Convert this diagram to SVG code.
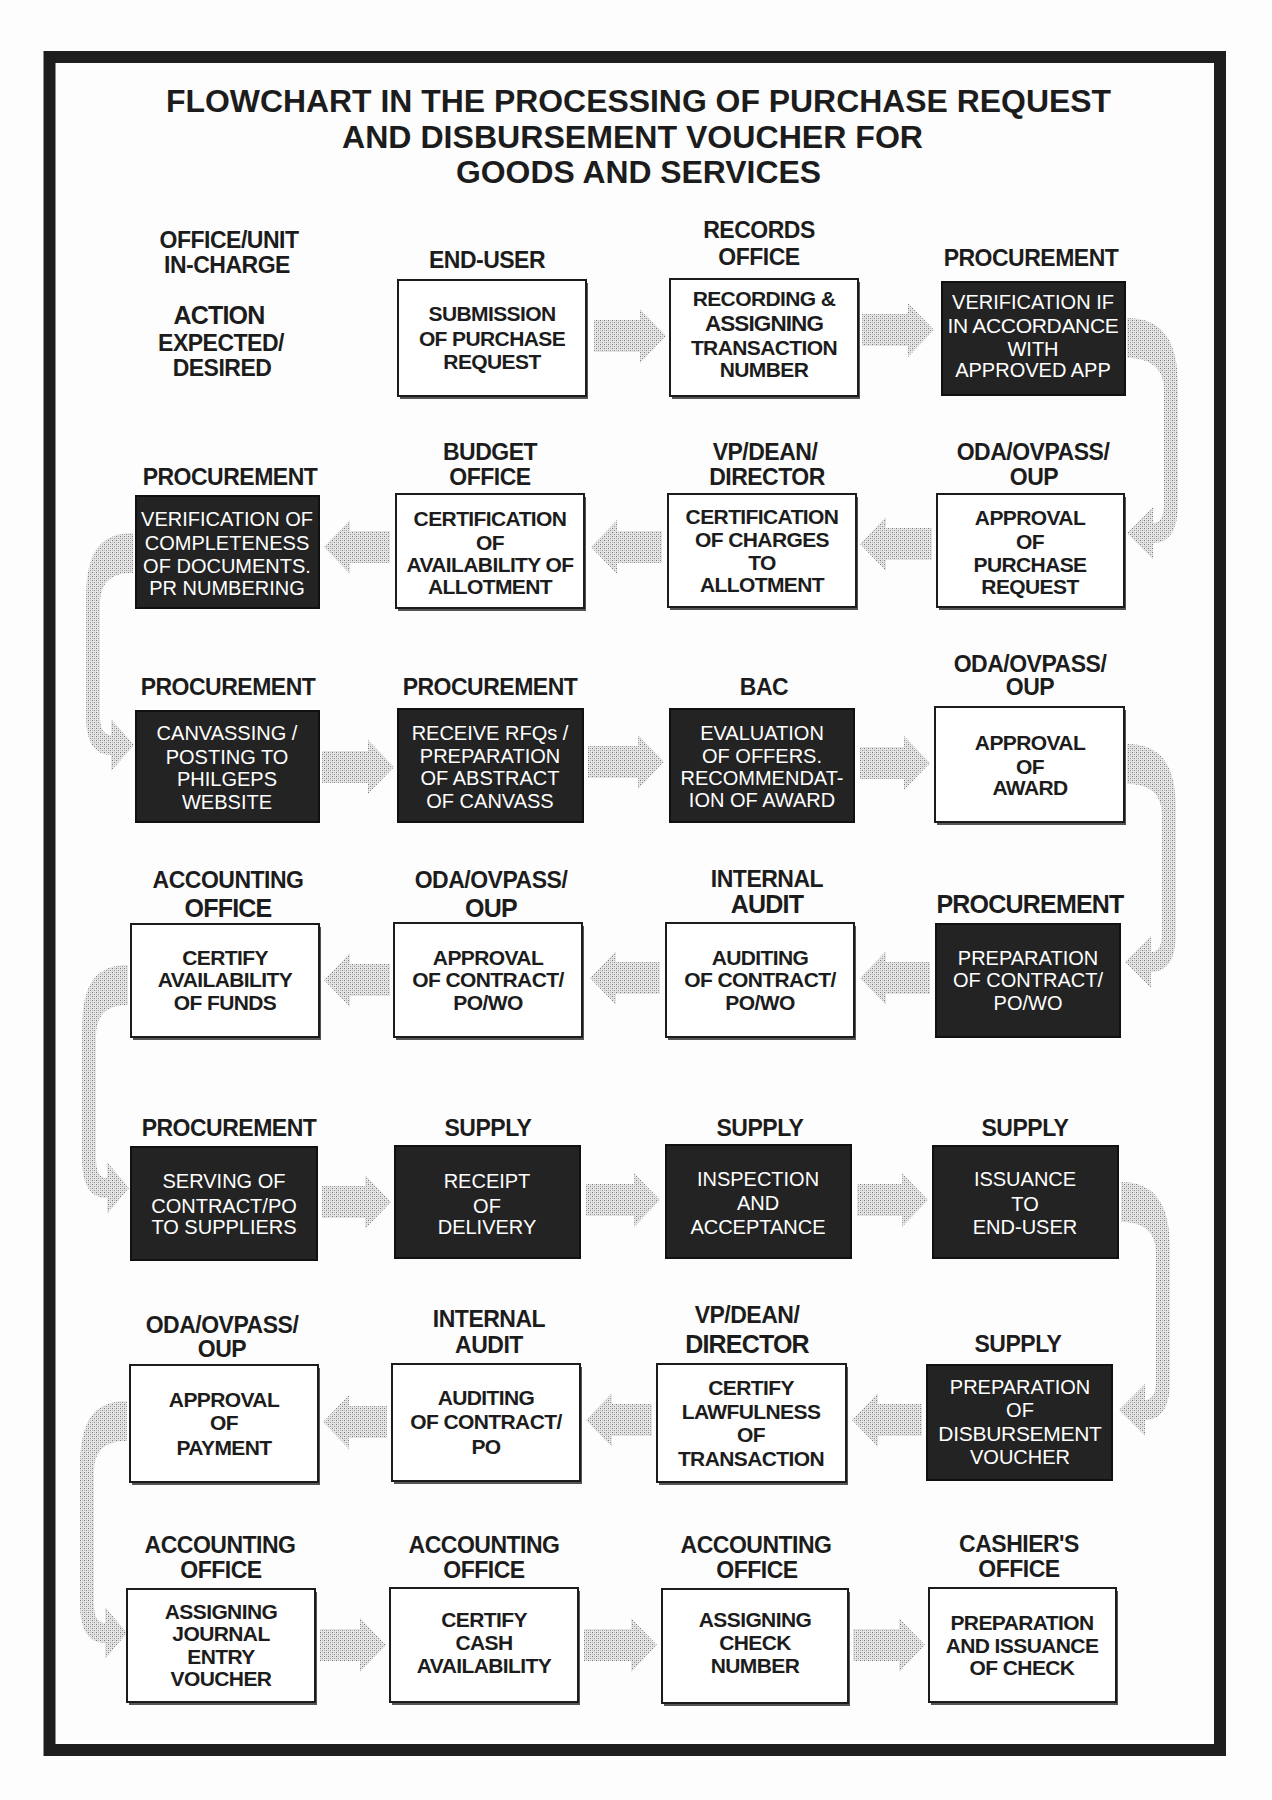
<svg xmlns="http://www.w3.org/2000/svg" width="1272" height="1800" viewBox="0 0 1272 1800">
<defs>
<style>
text{font-family:"Liberation Sans",Arial,sans-serif;text-anchor:middle}
.title{font-weight:bold;font-size:31px;fill:#1c1c1c;text-anchor:start}
.lbl{font-weight:bold;font-size:23px;letter-spacing:-0.5px;fill:#1c1c1c}
.big{font-size:25px;letter-spacing:-0.8px}
.bt{font-weight:bold;font-size:21px;letter-spacing:-0.6px;fill:#1c1c1c}
.bt2{font-weight:bold;font-size:22.5px;letter-spacing:-0.9px;fill:#1c1c1c}
.wt{font-size:20px;fill:#ffffff}
.wt2{font-size:21px;letter-spacing:-0.3px;fill:#ffffff}
.wb{fill:#ffffff;stroke:#1c1c1c;stroke-width:2}
.bb{fill:#232323;stroke:#111;stroke-width:2}
.sh{fill:#555555}
.arr{fill:url(#dots);stroke:none}
</style>
<pattern id="dots" width="4" height="4" patternUnits="userSpaceOnUse">
<rect width="4" height="4" fill="#e4e4e4"/>
<rect x="0" y="0" width="1" height="1" fill="#7a7a7a"/>
<rect x="2" y="2" width="1" height="1" fill="#919191"/>
<rect x="2" y="0" width="1" height="1" fill="#c2c2c2"/>
<rect x="0" y="2" width="1" height="1" fill="#b8b8b8"/>
</pattern>
</defs>
<rect width="1272" height="1800" fill="#fdfdfd"/>
<rect id="frame" x="49.5" y="57" width="1170.5" height="1693" fill="none" stroke="#1e1e1e" stroke-width="12"/>

<g id="title">
<text class="title" x="166" y="112" textLength="945" lengthAdjust="spacingAndGlyphs">FLOWCHART IN THE PROCESSING OF PURCHASE REQUEST</text>
<text class="title" x="342" y="148" textLength="581" lengthAdjust="spacingAndGlyphs">AND DISBURSEMENT VOUCHER FOR</text>
<text class="title" x="456" y="183" textLength="365" lengthAdjust="spacingAndGlyphs">GOODS AND SERVICES</text>
</g>

<g id="header">
<text class="lbl" x="229" y="248">OFFICE/UNIT</text>
<text class="lbl" x="227" y="273">IN-CHARGE</text>
<text class="lbl big" x="219" y="324">ACTION</text>
<text class="lbl" x="221" y="351">EXPECTED/</text>
<text class="lbl" x="222" y="376">DESIRED</text>
</g>

<g id="connectors">
<polygon class="arr" points="594,320 640,320 640,309 666,336 640,363 640,352 594,352"/>
<polygon class="arr" points="862,314 908,314 908,303 934,330 908,357 908,346 862,346"/>
<path class="arr" d="M1127,318 C1162,318 1178,340 1178,385 L1178,504 C1178,529 1170,543 1153,543 L1153,559 L1127,533 L1153,507 L1153,523 C1160,523 1164,517 1164,504 L1164,390 C1164,368 1150,358 1127,358 Z"/>
<polygon class="arr" points="932,528 886,528 886,517 860,544 886,571 886,560 932,560"/>
<polygon class="arr" points="662,531 617,531 617,520 591,547 617,574 617,563 662,563"/>
<polygon class="arr" points="390,531 350,531 350,520 324,547 350,574 350,563 390,563"/>
<path class="arr" d="M133,533 C98,533 86,555 86,600 L86,716 C86,741 94,755 111,755 L111,771 L134,745 L111,719 L111,735 C104,735 100,729 100,716 L100,605 C100,583 110,573 133,573 Z"/>
<polygon class="arr" points="322,751 368,751 368,740 394,767 368,794 368,783 322,783"/>
<polygon class="arr" points="588,746 638,746 638,735 664,762 638,789 638,778 588,778"/>
<polygon class="arr" points="860,747 904,747 904,736 930,763 904,790 904,779 860,779"/>
<path class="arr" d="M1127,744 C1162,744 1176,766 1176,811 L1176,933 C1176,958 1168,972 1151,972 L1151,988 L1125,962 L1151,936 L1151,952 C1158,952 1162,946 1162,933 L1162,816 C1162,794 1150,784 1127,784 Z"/>
<polygon class="arr" points="930,962 886,962 886,951 860,978 886,1005 886,994 930,994"/>
<polygon class="arr" points="660,962 616,962 616,951 590,978 616,1005 616,994 660,994"/>
<polygon class="arr" points="390,964 350,964 350,953 324,980 350,1007 350,996 390,996"/>
<path class="arr" d="M128,965 C93,965 82,987 82,1032 L82,1159 C82,1184 90,1198 107,1198 L107,1214 L129,1188 L107,1162 L107,1178 C100,1178 96,1172 96,1159 L96,1037 C96,1015 106,1005 128,1005 Z"/>
<polygon class="arr" points="322,1186 365,1186 365,1175 391,1202 365,1229 365,1218 322,1218"/>
<polygon class="arr" points="586,1184 634,1184 634,1173 660,1200 634,1227 634,1216 586,1216"/>
<polygon class="arr" points="857,1184 902,1184 902,1173 928,1200 902,1227 902,1216 857,1216"/>
<path class="arr" d="M1121,1182 C1155,1182 1170,1204 1170,1249 L1170,1381 C1170,1406 1162,1420 1145,1420 L1145,1436 L1119,1410 L1145,1384 L1145,1400 C1152,1400 1156,1394 1156,1381 L1156,1254 C1156,1232 1144,1222 1121,1222 Z"/>
<polygon class="arr" points="922,1404 878,1404 878,1393 852,1420 878,1447 878,1436 922,1436"/>
<polygon class="arr" points="652,1404 612,1404 612,1393 586,1420 612,1447 612,1436 652,1436"/>
<polygon class="arr" points="387,1406 349,1406 349,1395 323,1422 349,1449 349,1438 387,1438"/>
<path class="arr" d="M127,1401 C92,1401 80,1423 80,1468 L80,1604 C80,1629 88,1643 105,1643 L105,1659 L127,1633 L105,1607 L105,1623 C98,1623 94,1617 94,1604 L94,1473 C94,1451 104,1441 127,1441 Z"/>
<polygon class="arr" points="320,1629 360,1629 360,1618 386,1645 360,1672 360,1661 320,1661"/>
<polygon class="arr" points="584,1629 631,1629 631,1618 657,1645 631,1672 631,1661 584,1661"/>
<polygon class="arr" points="853,1629 899,1629 899,1618 925,1645 899,1672 899,1661 853,1661"/>
</g>

<g id="n-submission">
<text class="lbl" x="487" y="268">END-USER</text>
<rect class="sh" x="400" y="283" width="188" height="116"/>
<rect class="wb" x="398" y="280" width="188" height="116"/>
<text class="bt" x="492" y="321">SUBMISSION</text>
<text class="bt" x="492" y="346">OF PURCHASE</text>
<text class="bt" x="492" y="369">REQUEST</text>
</g>
<g id="n-recording">
<text class="lbl" x="759" y="238">RECORDS</text>
<text class="lbl" x="759" y="265">OFFICE</text>
<rect class="sh" x="672" y="282" width="188" height="117"/>
<rect class="wb" x="670" y="279" width="188" height="117"/>
<text class="bt" x="764" y="306">RECORDING &amp;</text>
<text class="bt2" x="764" y="331">ASSIGNING</text>
<text class="bt" x="764" y="355">TRANSACTION</text>
<text class="bt" x="764" y="377">NUMBER</text>
</g>
<g id="n-verification-app">
<text class="lbl" x="1031" y="266">PROCUREMENT</text>
<rect class="bb" x="942" y="282" width="183" height="113"/>
<text class="wt" x="1033" y="309">VERIFICATION IF</text>
<text class="wt2" x="1033" y="333">IN ACCORDANCE</text>
<text class="wt" x="1033" y="356">WITH</text>
<text class="wt" x="1033" y="377">APPROVED APP</text>
</g>

<g id="n-verification-docs">
<text class="lbl" x="230" y="485">PROCUREMENT</text>
<rect class="bb" x="136" y="496" width="183" height="112"/>
<text class="wt" x="227" y="526">VERIFICATION OF</text>
<text class="wt" x="227" y="550">COMPLETENESS</text>
<text class="wt" x="227" y="573">OF DOCUMENTS.</text>
<text class="wt" x="227" y="595">PR NUMBERING</text>
</g>
<g id="n-cert-allotment">
<text class="lbl" x="490" y="460">BUDGET</text>
<text class="lbl" x="490" y="485">OFFICE</text>
<rect class="sh" x="398" y="497" width="188" height="114"/>
<rect class="wb" x="396" y="494" width="188" height="114"/>
<text class="bt" x="490" y="526">CERTIFICATION</text>
<text class="bt" x="490" y="550">OF</text>
<text class="bt" x="490" y="572">AVAILABILITY OF</text>
<text class="bt" x="490" y="594">ALLOTMENT</text>
</g>
<g id="n-cert-charges">
<text class="lbl" x="765" y="460">VP/DEAN/</text>
<text class="lbl" x="767" y="485">DIRECTOR</text>
<rect class="sh" x="670" y="497" width="188" height="113"/>
<rect class="wb" x="668" y="494" width="188" height="113"/>
<text class="bt" x="762" y="524">CERTIFICATION</text>
<text class="bt" x="762" y="547">OF CHARGES</text>
<text class="bt" x="762" y="570">TO</text>
<text class="bt" x="762" y="592">ALLOTMENT</text>
</g>
<g id="n-approval-pr">
<text class="lbl" x="1033" y="460">ODA/OVPASS/</text>
<text class="lbl" x="1034" y="485">OUP</text>
<rect class="sh" x="939" y="497" width="187" height="113"/>
<rect class="wb" x="937" y="494" width="187" height="113"/>
<text class="bt" x="1030" y="525">APPROVAL</text>
<text class="bt" x="1030" y="549">OF</text>
<text class="bt" x="1030" y="572">PURCHASE</text>
<text class="bt" x="1030" y="594">REQUEST</text>
</g>

<g id="n-canvassing">
<text class="lbl" x="228" y="695">PROCUREMENT</text>
<rect class="bb" x="136" y="711" width="183" height="111"/>
<text class="wt" x="227" y="740">CANVASSING /</text>
<text class="wt" x="227" y="764">POSTING TO</text>
<text class="wt" x="227" y="786">PHILGEPS</text>
<text class="wt" x="227" y="809">WEBSITE</text>
</g>
<g id="n-receive-rfq">
<text class="lbl" x="490" y="695">PROCUREMENT</text>
<rect class="bb" x="398" y="709" width="185" height="113"/>
<text class="wt" x="490" y="740">RECEIVE RFQs /</text>
<text class="wt" x="490" y="763">PREPARATION</text>
<text class="wt" x="490" y="785">OF ABSTRACT</text>
<text class="wt" x="490" y="808">OF CANVASS</text>
</g>
<g id="n-evaluation">
<text class="lbl" x="764" y="695">BAC</text>
<rect class="bb" x="670" y="709" width="184" height="113"/>
<text class="wt" x="762" y="740">EVALUATION</text>
<text class="wt" x="762" y="763">OF OFFERS.</text>
<text class="wt" x="762" y="785">RECOMMENDAT-</text>
<text class="wt" x="762" y="807">ION OF AWARD</text>
</g>
<g id="n-approval-award">
<text class="lbl" x="1030" y="672">ODA/OVPASS/</text>
<text class="lbl" x="1030" y="695">OUP</text>
<rect class="sh" x="937" y="710" width="189" height="115"/>
<rect class="wb" x="935" y="707" width="189" height="115"/>
<text class="bt" x="1030" y="750">APPROVAL</text>
<text class="bt" x="1030" y="774">OF</text>
<text class="bt" x="1030" y="795">AWARD</text>
</g>

<g id="n-certify-funds">
<text class="lbl" x="228" y="888">ACCOUNTING</text>
<text class="lbl big" x="228" y="917">OFFICE</text>
<rect class="sh" x="133" y="927" width="188" height="113"/>
<rect class="wb" x="131" y="924" width="188" height="113"/>
<text class="bt" x="225" y="965">CERTIFY</text>
<text class="bt" x="225" y="987">AVAILABILITY</text>
<text class="bt" x="225" y="1010">OF FUNDS</text>
</g>
<g id="n-approval-contract">
<text class="lbl" x="491" y="888">ODA/OVPASS/</text>
<text class="lbl big" x="491" y="917">OUP</text>
<rect class="sh" x="396" y="926" width="188" height="114"/>
<rect class="wb" x="394" y="923" width="188" height="114"/>
<text class="bt" x="488" y="965">APPROVAL</text>
<text class="bt" x="488" y="987">OF CONTRACT/</text>
<text class="bt" x="488" y="1010">PO/WO</text>
</g>
<g id="n-auditing-contract">
<text class="lbl" x="767" y="887">INTERNAL</text>
<text class="lbl big" x="767" y="913">AUDIT</text>
<rect class="sh" x="668" y="926" width="188" height="114"/>
<rect class="wb" x="666" y="923" width="188" height="114"/>
<text class="bt" x="760" y="965">AUDITING</text>
<text class="bt" x="760" y="987">OF CONTRACT/</text>
<text class="bt" x="760" y="1010">PO/WO</text>
</g>
<g id="n-prep-contract">
<text class="lbl big" x="1030" y="913">PROCUREMENT</text>
<rect class="bb" x="936" y="924" width="184" height="113"/>
<text class="wt" x="1028" y="965">PREPARATION</text>
<text class="wt" x="1028" y="987">OF CONTRACT/</text>
<text class="wt" x="1028" y="1010">PO/WO</text>
</g>

<g id="n-serving">
<text class="lbl" x="229" y="1136">PROCUREMENT</text>
<rect class="bb" x="131" y="1147" width="186" height="113"/>
<text class="wt" x="224" y="1188">SERVING OF</text>
<text class="wt" x="224" y="1213">CONTRACT/PO</text>
<text class="wt" x="224" y="1234">TO SUPPLIERS</text>
</g>
<g id="n-receipt">
<text class="lbl" x="488" y="1136">SUPPLY</text>
<rect class="bb" x="395" y="1146" width="185" height="112"/>
<text class="wt" x="487" y="1188">RECEIPT</text>
<text class="wt" x="487" y="1213">OF</text>
<text class="wt" x="487" y="1234">DELIVERY</text>
</g>
<g id="n-inspection">
<text class="lbl" x="760" y="1136">SUPPLY</text>
<rect class="bb" x="666" y="1145" width="185" height="113"/>
<text class="wt" x="758" y="1186">INSPECTION</text>
<text class="wt" x="758" y="1210">AND</text>
<text class="wt" x="758" y="1234">ACCEPTANCE</text>
</g>
<g id="n-issuance">
<text class="lbl" x="1025" y="1136">SUPPLY</text>
<rect class="bb" x="933" y="1146" width="185" height="112"/>
<text class="wt" x="1025" y="1186">ISSUANCE</text>
<text class="wt" x="1025" y="1211">TO</text>
<text class="wt" x="1025" y="1234">END-USER</text>
</g>

<g id="n-approval-payment">
<text class="lbl" x="222" y="1333">ODA/OVPASS/</text>
<text class="lbl" x="222" y="1357">OUP</text>
<rect class="sh" x="132" y="1368" width="188" height="117"/>
<rect class="wb" x="130" y="1365" width="188" height="117"/>
<text class="bt" x="224" y="1407">APPROVAL</text>
<text class="bt" x="224" y="1430">OF</text>
<text class="bt" x="224" y="1455">PAYMENT</text>
</g>
<g id="n-auditing-po">
<text class="lbl" x="489" y="1327">INTERNAL</text>
<text class="lbl" x="489" y="1353">AUDIT</text>
<rect class="sh" x="394" y="1367" width="188" height="117"/>
<rect class="wb" x="392" y="1364" width="188" height="117"/>
<text class="bt" x="486" y="1405">AUDITING</text>
<text class="bt" x="486" y="1429">OF CONTRACT/</text>
<text class="bt" x="486" y="1454">PO</text>
</g>
<g id="n-certify-lawfulness">
<text class="lbl" x="747" y="1323">VP/DEAN/</text>
<text class="lbl big" x="747" y="1353">DIRECTOR</text>
<rect class="sh" x="659" y="1367" width="189" height="118"/>
<rect class="wb" x="657" y="1364" width="189" height="118"/>
<text class="bt" x="751" y="1395">CERTIFY</text>
<text class="bt" x="751" y="1419">LAWFULNESS</text>
<text class="bt" x="751" y="1442">OF</text>
<text class="bt" x="751" y="1466">TRANSACTION</text>
</g>
<g id="n-prep-dv">
<text class="lbl" x="1018" y="1352">SUPPLY</text>
<rect class="bb" x="927" y="1365" width="185" height="115"/>
<text class="wt" x="1020" y="1394">PREPARATION</text>
<text class="wt" x="1020" y="1417">OF</text>
<text class="wt2" x="1020" y="1441">DISBURSEMENT</text>
<text class="wt" x="1020" y="1464">VOUCHER</text>
</g>

<g id="n-journal">
<text class="lbl" x="220" y="1553">ACCOUNTING</text>
<text class="lbl" x="221" y="1578">OFFICE</text>
<rect class="sh" x="129" y="1592" width="188" height="113"/>
<rect class="wb" x="127" y="1589" width="188" height="113"/>
<text class="bt" x="221" y="1619">ASSIGNING</text>
<text class="bt" x="221" y="1641">JOURNAL</text>
<text class="bt" x="221" y="1664">ENTRY</text>
<text class="bt" x="221" y="1686">VOUCHER</text>
</g>
<g id="n-cash">
<text class="lbl" x="484" y="1553">ACCOUNTING</text>
<text class="lbl" x="484" y="1578">OFFICE</text>
<rect class="sh" x="392" y="1591" width="188" height="114"/>
<rect class="wb" x="390" y="1588" width="188" height="114"/>
<text class="bt" x="484" y="1627">CERTIFY</text>
<text class="bt" x="484" y="1650">CASH</text>
<text class="bt" x="484" y="1673">AVAILABILITY</text>
</g>
<g id="n-check-number">
<text class="lbl" x="756" y="1553">ACCOUNTING</text>
<text class="lbl" x="757" y="1578">OFFICE</text>
<rect class="sh" x="664" y="1592" width="186" height="114"/>
<rect class="wb" x="662" y="1589" width="186" height="114"/>
<text class="bt" x="755" y="1627">ASSIGNING</text>
<text class="bt" x="755" y="1650">CHECK</text>
<text class="bt" x="755" y="1673">NUMBER</text>
</g>
<g id="n-issuance-check">
<text class="lbl" x="1019" y="1552">CASHIER'S</text>
<text class="lbl" x="1019" y="1577">OFFICE</text>
<rect class="sh" x="931" y="1591" width="187" height="114"/>
<rect class="wb" x="929" y="1588" width="187" height="114"/>
<text class="bt" x="1022" y="1630">PREPARATION</text>
<text class="bt" x="1022" y="1653">AND ISSUANCE</text>
<text class="bt" x="1022" y="1675">OF CHECK</text>
</g>
</svg>
